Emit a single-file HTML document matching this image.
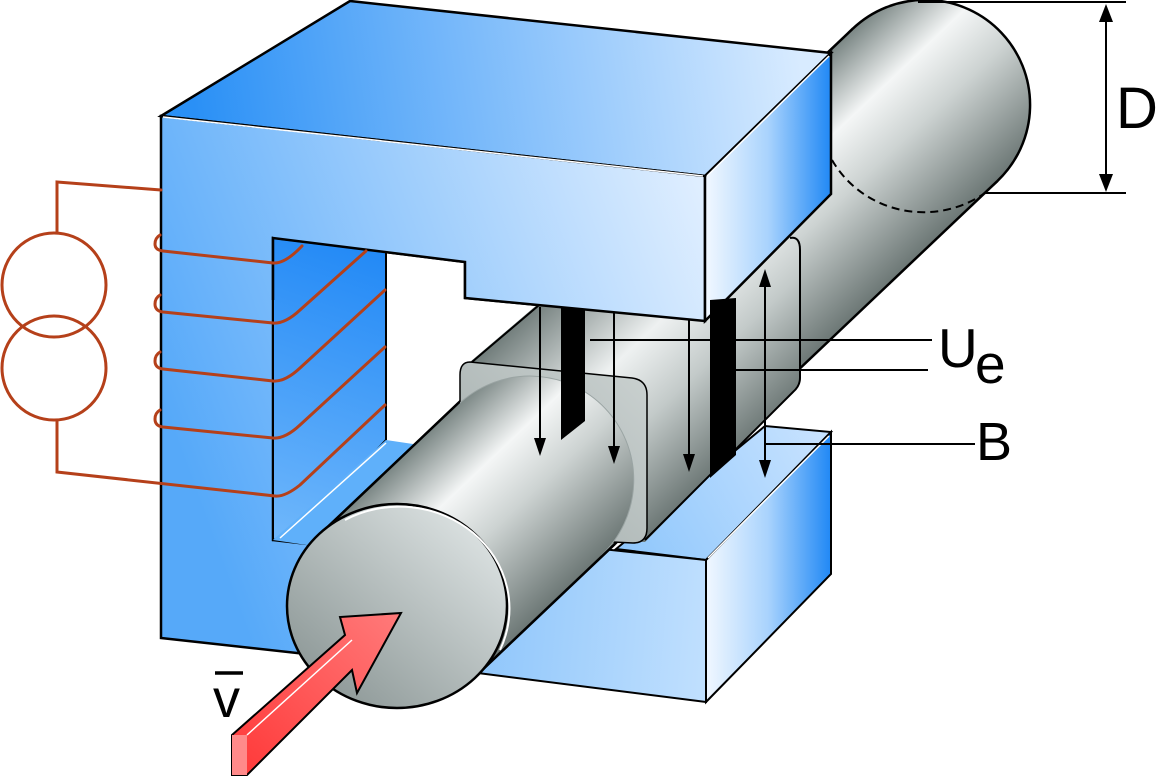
<!DOCTYPE html>
<html><head><meta charset="utf-8"><style>
html,body{margin:0;padding:0;background:#fff;}
svg{display:block;}
text{font-family:"Liberation Sans",sans-serif;fill:#000;}
</style></head><body>
<svg width="1161" height="777" viewBox="0 0 1161 777" xmlns="http://www.w3.org/2000/svg">
<defs>
<linearGradient id="front" gradientUnits="userSpaceOnUse" x1="161" y1="400" x2="705" y2="200">
<stop offset="0" stop-color="#56a9f9"/><stop offset="1" stop-color="#dfeeff"/></linearGradient>
<linearGradient id="top" gradientUnits="userSpaceOnUse" x1="200" y1="150" x2="800" y2="60">
<stop offset="0" stop-color="#2a90f6"/><stop offset="1" stop-color="#d8ebff"/></linearGradient>
<linearGradient id="side" gradientUnits="userSpaceOnUse" x1="705" y1="0" x2="831" y2="0">
<stop offset="0" stop-color="#f2f8ff"/><stop offset="0.5" stop-color="#a9d3fd"/><stop offset="1" stop-color="#2088f5"/></linearGradient>
<linearGradient id="wall" gradientUnits="userSpaceOnUse" x1="380" y1="250" x2="280" y2="540">
<stop offset="0" stop-color="#2289f6"/><stop offset="1" stop-color="#6fb7fb"/></linearGradient>
<linearGradient id="lowtop" gradientUnits="userSpaceOnUse" x1="620" y1="550" x2="830" y2="430">
<stop offset="0" stop-color="#8fc7fc"/><stop offset="1" stop-color="#c9e3ff"/></linearGradient>
<linearGradient id="lowfront" gradientUnits="userSpaceOnUse" x1="480" y1="600" x2="705" y2="620">
<stop offset="0" stop-color="#8fc6fb"/><stop offset="1" stop-color="#bfdffe"/></linearGradient>
<linearGradient id="cyl" gradientUnits="userSpaceOnUse" x1="0" y1="-105" x2="0" y2="105">
<stop offset="0" stop-color="#7a8684"/><stop offset="0.3" stop-color="#f4f6f6"/><stop offset="0.55" stop-color="#cdd3d2"/><stop offset="1" stop-color="#6c7775"/></linearGradient>
<linearGradient id="endf" gradientUnits="userSpaceOnUse" x1="480" y1="520" x2="320" y2="700">
<stop offset="0" stop-color="#dde3e3"/><stop offset="1" stop-color="#8b9695"/></linearGradient>
<linearGradient id="sleeve" gradientUnits="userSpaceOnUse" x1="572" y1="267" x2="744" y2="449">
<stop offset="0" stop-color="#6f7b79"/><stop offset="0.4" stop-color="#eef1f1"/><stop offset="0.65" stop-color="#c3cac9"/><stop offset="1" stop-color="#6a7573"/></linearGradient>
<linearGradient id="sface" gradientUnits="userSpaceOnUse" x1="640" y1="370" x2="470" y2="540">
<stop offset="0" stop-color="#c9d0cf"/><stop offset="1" stop-color="#a3adac"/></linearGradient>
<linearGradient id="red" gradientUnits="userSpaceOnUse" x1="240" y1="770" x2="400" y2="613">
<stop offset="0" stop-color="#ff3a3a"/><stop offset="1" stop-color="#ff7a7a"/></linearGradient>
<clipPath id="outface"><polygon points="200,300 460,300 460,545 660,545 660,777 200,777"/></clipPath>
</defs>

<!-- C frame front (full) -->
<polygon points="161,116 705,176 705,321 465,298 465,262 273,238 273,540 360,550 360,660 161,638" fill="url(#front)" stroke="#000" stroke-width="2.5"/>
<polygon points="273,238 386,252 386,440 295,535 273,540" fill="url(#wall)" stroke="#000" stroke-width="2"/>
<polygon points="273,540 386,440 440,448 340,550" fill="#5fb0fa"/>
<line x1="280" y1="538" x2="386" y2="443" stroke="#fff" stroke-width="1.5"/>

<!-- lower block -->
<polygon points="616,549 706,560 831,432 765,426" fill="url(#lowtop)" stroke="#000" stroke-width="2"/>
<polygon points="706,560 831,432 831,574 706,702" fill="url(#side)" stroke="#000" stroke-width="2"/>
<polygon points="470,535 706,560 706,702 470,672" fill="url(#lowfront)" stroke="#000" stroke-width="2"/>
<line x1="708" y1="558" x2="829" y2="436" stroke="#fff" stroke-width="1.5"/>

<!-- cylinder back end + body -->
<g transform="translate(397,606) rotate(-43.5)">
<circle cx="728" cy="0" r="105" fill="url(#cyl)" stroke="#000" stroke-width="2.5"/>
<rect x="0" y="-105" width="728" height="210" fill="url(#cyl)"/>
<line x1="0" y1="-105" x2="728" y2="-105" stroke="#000" stroke-width="2.5"/>
<line x1="0" y1="105" x2="728" y2="105" stroke="#000" stroke-width="2.5"/>
</g>
<path d="M832,160 A105,102 0 0 0 985,193" fill="none" stroke="#000" stroke-width="2" stroke-dasharray="8,5"/>

<!-- sleeve -->
<path d="M470,362 L545,298 L700,300 L790,238 Q800,236 800,250 L800,378 Q800,386 793,392 L645,542 L470,535 Z" fill="url(#sleeve)"/>
<path d="M472,362 L545,300 M790,238 Q800,236 800,250 L800,378 Q800,386 793,392 L645,540" fill="none" stroke="#000" stroke-width="2"/>
<path d="M470,362 L632,378 Q647,380 647,395 L647,528 Q647,543 633,543 L470,535 Q460,535 460,520 L460,375 Q460,362 470,362 Z" fill="url(#sface)" stroke="#000" stroke-width="1.5"/>

<!-- front cylinder segment with rounded cap -->
<g transform="translate(397,606) rotate(-43.5)">
<circle cx="183" cy="0" r="104" fill="url(#cyl)" stroke="#9aa4a3" stroke-width="1"/>
<rect x="0" y="-105" width="183" height="210" fill="url(#cyl)"/>
</g>
<g clip-path="url(#outface)">
<g transform="translate(397,606) rotate(-43.5)">
<line x1="0" y1="-105" x2="260" y2="-105" stroke="#000" stroke-width="2.5"/>
<line x1="0" y1="105" x2="260" y2="105" stroke="#000" stroke-width="2.5"/>
</g>
</g>
<ellipse cx="397" cy="606" rx="110" ry="102" fill="url(#endf)" stroke="#000" stroke-width="2.5"/>
<path d="M345,520 A110,102 0 0 1 500,650" fill="none" stroke="#fff" stroke-width="2"/>

<!-- top block on top -->
<polygon points="161,116 350,1 831,53 705,176" fill="url(#top)" stroke="#000" stroke-width="2.5"/>
<polygon points="273,128 705,176 705,321 465,298 465,262 386,252 273,238" fill="url(#front)"/>
<polyline points="161,116 705,176 705,321 465,298 465,262 273,238 273,300" fill="none" stroke="#000" stroke-width="2.5"/>
<polygon points="705,176 831,53 831,194 705,321" fill="url(#side)" stroke="#000" stroke-width="2.5"/>
<line x1="163" y1="117" x2="703" y2="176" stroke="#fff" stroke-width="1.5"/>
<line x1="707" y1="176" x2="829" y2="56" stroke="#fff" stroke-width="1.5"/>

<!-- electrodes -->
<polygon points="561,308 585,310 585,421 561,440" fill="#000"/>
<polygon points="710,300 736,298 736,455 710,478" fill="#000"/>

<!-- B arrows -->
<g stroke="#000" stroke-width="2">
<line x1="540" y1="307" x2="540" y2="440"/>
<line x1="614" y1="313" x2="614" y2="448"/>
<line x1="689" y1="320" x2="689" y2="456"/>
<line x1="765" y1="285" x2="765" y2="463"/>
</g>
<g fill="#000">
<polygon points="534,438 546,438 540,456"/>
<polygon points="608,446 620,446 614,464"/>
<polygon points="683,454 695,454 689,472"/>
<polygon points="759,287 771,287 765,269"/>
<polygon points="759,460 771,460 765,478"/>
</g>

<!-- label lines -->
<g stroke="#000" stroke-width="2">
<line x1="590" y1="340" x2="932" y2="340"/>
<line x1="736" y1="370" x2="928" y2="370"/>
<line x1="765" y1="444" x2="975" y2="444"/>
<line x1="918" y1="2" x2="1126" y2="2"/>
<line x1="985" y1="193" x2="1126" y2="193"/>
<line x1="1106" y1="18" x2="1106" y2="178"/>
</g>
<polygon points="1099,22 1113,22 1106,4" fill="#000"/>
<polygon points="1099,174 1113,174 1106,192" fill="#000"/>

<!-- coil -->
<g fill="none" stroke="#b5401a" stroke-width="3" stroke-linecap="round">
<circle cx="54" cy="285" r="52"/>
<circle cx="54" cy="368" r="52"/>
<polyline points="57,233 57,182 161,190"/>
<polyline points="57,420 57,472 275,496"/>
<path d="M275,496 Q285,497 300,485 L385,405"/>
<path d="M160,235 Q155,238 155,244 Q155,250 163,251 L273,263 Q285,264 302,246"/>
<path d="M160,295 Q155,298 155,304 Q155,311 163,312 L273,323 Q285,324 300,310 L366,251"/>
<path d="M160,352 Q155,355 155,361 Q155,368 163,369 L273,381 Q285,382 300,368 L385,290"/>
<path d="M160,410 Q155,413 155,419 Q155,426 163,427 L273,438 Q285,439 300,425 L385,347"/>
</g>

<!-- red velocity arrow -->
<polygon points="232,735 345,635 340,617 401,613 357,693 352,670 247,775 232,775" fill="url(#red)" stroke="#000" stroke-width="2"/>
<polygon points="232,735 247,735 247,775 232,775" fill="#ff8a8a"/>
<line x1="247" y1="735" x2="352" y2="640" stroke="#fff" stroke-width="1.5"/>

<!-- labels -->
<text x="938" y="367" font-size="55">U</text>
<text x="975" y="383" font-size="55">e</text>
<text x="976" y="460" font-size="54">B</text>
<text x="1116" y="128" font-size="58">D</text>
<text x="213" y="717" font-size="54">v</text>
<line x1="215" y1="673" x2="243" y2="673" stroke="#000" stroke-width="3.5"/>
</svg>
</body></html>
